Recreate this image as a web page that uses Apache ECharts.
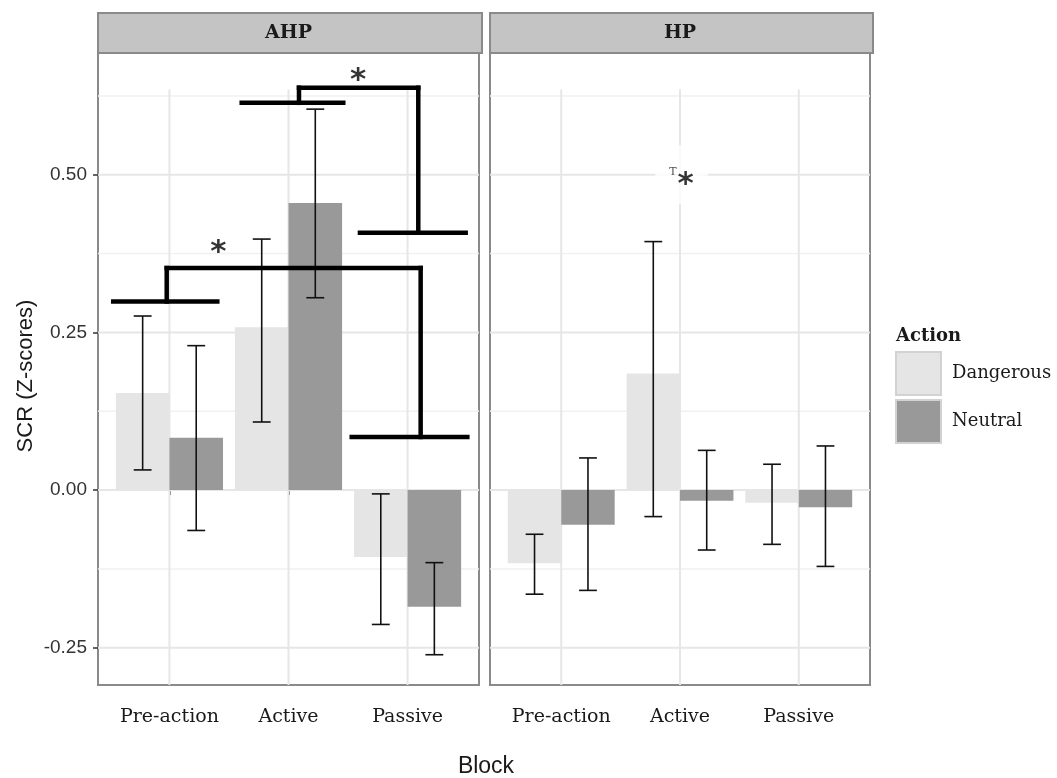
<!DOCTYPE html>
<html>
<head>
<meta charset="utf-8">
<script src="https://cdn.jsdelivr.net/npm/echarts@6/dist/echarts.min.js"></script>
<style>
  html, body { margin: 0; padding: 0; background: #fff; }
  #chart { width: 1057px; height: 778px; }
</style>
</head>
<body>
<div id="chart"></div>
<script>
const blocks = ['Pre-action', 'Active', 'Passive'];
const panels = ['AHP', 'HP'];
const actions = ['Dangerous', 'Neutral'];

// mean SCR per block
const ahpDangerous = [0.154, 0.258, -0.106];
const ahpNeutral = [0.083, 0.455, -0.185];
const hpDangerous = [-0.116, 0.185, -0.020];
const hpNeutral = [-0.055, -0.017, -0.027];

// error bar ends
const ahpDangerousLow = [0.032, 0.108, -0.213];
const ahpDangerousHigh = [0.276, 0.398, -0.006];
const ahpNeutralLow = [-0.064, 0.305, -0.261];
const ahpNeutralHigh = [0.229, 0.604, -0.115];
const hpDangerousLow = [-0.165, -0.042, -0.086];
const hpDangerousHigh = [-0.070, 0.394, 0.041];
const hpNeutralLow = [-0.159, -0.095, -0.121];
const hpNeutralHigh = [0.051, 0.063, 0.070];

const yBreaks = [-0.25, 0, 0.25, 0.5];
const yMinorBreaks = [-0.125, 0.125, 0.375, 0.625];
const xBreaks = [1, 2, 3];

// significance brackets in the AHP panel, segments [x1, y1, x2, y2]
const bracketUpper = [
  [1.607, 0.614, 2.460, 0.614],
  [2.088, 0.614, 2.088, 0.638],
  [2.088, 0.638, 3.090, 0.638],
  [3.090, 0.638, 3.090, 0.408],
  [2.600, 0.408, 3.488, 0.408],
];
const bracketLower = [
  [0.528, 0.299, 1.402, 0.299],
  [0.977, 0.299, 0.977, 0.352],
  [0.977, 0.352, 3.110, 0.352],
  [3.110, 0.352, 3.110, 0.084],
  [2.531, 0.084, 3.502, 0.084],
];
const starsAHP = [[2.584, 0.660], [1.410, 0.387]];
const markHP = [[1.954, 0.500]];

const Y_MIN = -0.309;
const Y_MAX = 0.693;
const X_MIN = 0.4;
const X_MAX = 3.6;
const GRID_TOP = 0.635;

const colors = { Dangerous: '#e5e5e5', Neutral: '#999999' };
const serif = 'DejaVu Serif';
const sans = 'Liberation Sans';

const panelBoxes = [
  { left: 98, top: 53, width: 381, height: 632 },
  { left: 490, top: 53, width: 380, height: 632 },
];

const chart = echarts.init(document.getElementById('chart'));

function barData(means, lows, highs, offset) {
  return means.map((m, i) => [i + 1 + offset, m, lows[i], highs[i]]);
}

function renderBar(params, api) {
  const x = api.value(0);
  const v = api.value(1);
  const lo = api.value(2);
  const hi = api.value(3);
  const hw = 0.225;
  const ew = 0.075;
  const a = api.coord([x - hw, v]);
  const b = api.coord([x + hw, 0]);
  const top = api.coord([x, hi]);
  const bot = api.coord([x, lo]);
  const tl = api.coord([x - ew, hi]);
  const tr = api.coord([x + ew, hi]);
  const bl = api.coord([x - ew, lo]);
  const br = api.coord([x + ew, lo]);
  const line = { stroke: '#111', lineWidth: 1.6 };
  return {
    type: 'group',
    children: [
      {
        type: 'rect',
        shape: {
          x: Math.min(a[0], b[0]), y: Math.min(a[1], b[1]),
          width: Math.abs(b[0] - a[0]), height: Math.abs(b[1] - a[1]),
        },
        style: { fill: api.visual('color') },
      },
      { type: 'line', shape: { x1: top[0], y1: top[1], x2: bot[0], y2: bot[1] }, style: line },
      { type: 'line', shape: { x1: tl[0], y1: tl[1], x2: tr[0], y2: tr[1] }, style: line },
      { type: 'line', shape: { x1: bl[0], y1: bl[1], x2: br[0], y2: br[1] }, style: line },
    ],
  };
}

function renderGridLine(params, api) {
  const kind = api.value(0);
  const v = api.value(1);
  const major = api.value(2);
  let p, q;
  if (kind === 0) {
    p = api.coord([X_MIN, v]);
    q = api.coord([X_MAX, v]);
  } else {
    p = api.coord([v, Y_MIN]);
    q = api.coord([v, GRID_TOP]);
  }
  return {
    type: 'line',
    shape: { x1: p[0], y1: p[1], x2: q[0], y2: q[1] },
    style: { stroke: major ? '#e6e6e6' : '#f1f1f1', lineWidth: major ? 2 : 1.5 },
  };
}

function renderSegment(params, api) {
  const p = api.coord([api.value(0), api.value(1)]);
  const q = api.coord([api.value(2), api.value(3)]);
  return {
    type: 'line',
    shape: { x1: p[0], y1: p[1], x2: q[0], y2: q[1] },
    style: { stroke: '#000', lineWidth: 4.5, lineCap: 'square' },
  };
}

const gridLineData = []
  .concat(yBreaks.map((v) => [0, v, 1]))
  .concat(yMinorBreaks.map((v) => [0, v, 0]))
  .concat(xBreaks.map((v) => [1, v, 1]));

const series = [];
panels.forEach((p, gi) => {
  series.push({
    type: 'custom', name: 'grid' + gi, xAxisIndex: gi, yAxisIndex: gi, z: 1,
    silent: true, renderItem: renderGridLine, data: gridLineData,
  });
});

const means = [[ahpDangerous, ahpNeutral], [hpDangerous, hpNeutral]];
const lows = [[ahpDangerousLow, ahpNeutralLow], [hpDangerousLow, hpNeutralLow]];
const highs = [[ahpDangerousHigh, ahpNeutralHigh], [hpDangerousHigh, hpNeutralHigh]];
panels.forEach((p, gi) => {
  actions.forEach((act, ai) => {
    series.push({
      type: 'custom', name: act, xAxisIndex: gi, yAxisIndex: gi, z: 2,
      itemStyle: { color: colors[act] },
      renderItem: renderBar,
      data: barData(means[gi][ai], lows[gi][ai], highs[gi][ai], ai === 0 ? -0.225 : 0.225),
    });
  });
});

series.push({
  type: 'custom', name: 'brackets', xAxisIndex: 0, yAxisIndex: 0, z: 3, silent: true,
  renderItem: renderSegment, data: bracketUpper.concat(bracketLower),
});

series.push({
  type: 'scatter', name: 'stars', xAxisIndex: 0, yAxisIndex: 0, z: 4, silent: true,
  symbolSize: 0, data: starsAHP,
  label: {
    show: true, formatter: '*', position: 'inside', offset: [0, 7],
    fontFamily: 'DejaVu Sans', fontWeight: 'bold', fontSize: 31, color: '#000',
  },
});

series.push({
  type: 'scatter', name: 'hpmark', xAxisIndex: 1, yAxisIndex: 1, z: 4, silent: true,
  symbolSize: 0, data: markHP,
  label: {
    show: true, position: 'inside', formatter: '{t|T}{s|*}', offset: [7, 0],
    backgroundColor: '#fff', padding: [8, 14, 4, 14],
    rich: {
      t: { fontFamily: serif, fontSize: 11, color: '#222', padding: [0, 1, 10, 0] },
      s: { fontFamily: 'DejaVu Sans', fontWeight: 'bold', fontSize: 31, color: '#000', padding: [16, 0, 0, 0] },
    },
  },
});

chart.setOption({
  animation: false,
  backgroundColor: '#fff',
  grid: panelBoxes.map((b) => ({
    left: b.left, top: b.top, width: b.width, height: b.height,
    show: true, backgroundColor: '#fff', borderColor: '#8a8a8a', borderWidth: 2,
    containLabel: false,
  })),
  legend: {
    data: actions, orient: 'vertical', left: 890, top: 346,
    itemWidth: 45, itemHeight: 43, itemGap: 3, icon: 'rect', selectedMode: false,
    itemStyle: { borderColor: '#d2d2d2', borderWidth: 2 },
    textStyle: { fontFamily: serif, fontSize: 18, color: '#1a1a1a', padding: [0, 0, 0, 6] },
  },
  xAxis: panels.map((p, gi) => ({
    type: 'value', gridIndex: gi, min: X_MIN, max: X_MAX,
    axisLine: { show: false },
    splitLine: { show: false },
    axisTick: { show: true, customValues: xBreaks, length: 5, lineStyle: { color: '#333', width: 1.5 } },
    axisLabel: {
      customValues: xBreaks, margin: 23,
      fontFamily: serif, fontSize: 19, color: '#1a1a1a',
      formatter: (v) => blocks[Math.round(v) - 1],
    },
  })),
  yAxis: panels.map((p, gi) => ({
    type: 'value', gridIndex: gi, min: Y_MIN, max: Y_MAX,
    axisLine: { show: false },
    splitLine: { show: false },
    axisTick: { show: gi === 0, customValues: yBreaks, length: 5, lineStyle: { color: '#333', width: 1.5 } },
    axisLabel: {
      show: gi === 0, customValues: yBreaks, margin: 11,
      fontFamily: sans, fontSize: 19, color: '#333',
      formatter: (v) => v.toFixed(2),
    },
  })),
  graphic: [
    ...panels.map((p, gi) => ({
      type: 'group',
      children: [
        {
          type: 'rect',
          shape: { x: panelBoxes[gi].left, y: 13, width: panelBoxes[gi].width + 3, height: 40 },
          style: { fill: '#c4c4c4', stroke: '#8a8a8a', lineWidth: 2 },
        },
        {
          type: 'text',
          x: panelBoxes[gi].left + panelBoxes[gi].width / 2, y: 33,
          style: {
            text: p, fontFamily: serif, fontWeight: 'bold', fontSize: 19, fill: '#1a1a1a',
            align: 'center', verticalAlign: 'middle',
          },
        },
      ],
    })),
    {
      type: 'text', x: 26, y: 376, rotation: Math.PI / 2,
      style: {
        text: 'SCR (Z-scores)', fontFamily: sans, fontSize: 22, fill: '#1a1a1a',
        align: 'center', verticalAlign: 'middle',
      },
    },
    {
      type: 'text', x: 486, y: 767,
      style: {
        text: 'Block', fontFamily: sans, fontSize: 23, fill: '#1a1a1a',
        align: 'center', verticalAlign: 'middle',
      },
    },
    {
      type: 'text', x: 896, y: 336,
      style: {
        text: 'Action', fontFamily: serif, fontWeight: 'bold', fontSize: 18, fill: '#1a1a1a',
        align: 'left', verticalAlign: 'middle',
      },
    },
  ],
  series,
});
</script>
</body>
</html>
